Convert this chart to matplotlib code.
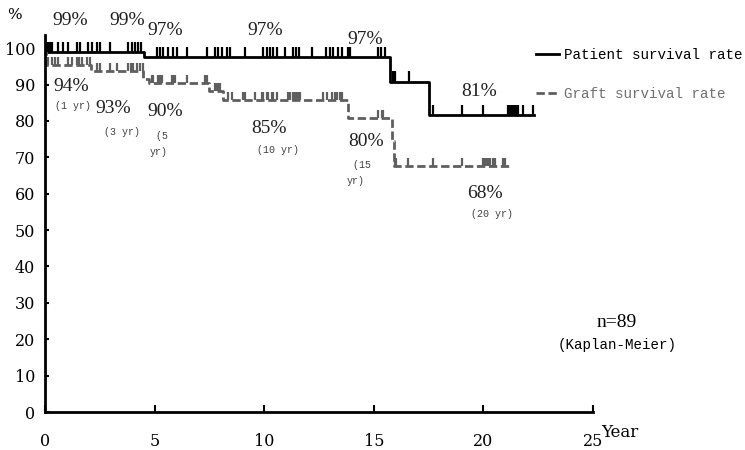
import numpy as np
import matplotlib
matplotlib.use('Agg')
import matplotlib.pyplot as plt

# Kaplan-Meier steps (years, %)
patient_t = [0, 0.03, 4.5, 15.75, 17.52, 22.3]
patient_s = [100, 99.0, 97.6, 90.8, 81.7, 81.7]
graft_t = [0, 0.05, 2.1, 4.47, 4.75, 7.5, 8.1, 13.82, 15.83, 15.9, 21.2]
graft_s = [100, 95.3, 93.6, 91.5, 90.3, 88.2, 85.7, 80.8, 74.5, 67.6, 67.6]

# censored observations (years)
patient_cens = [0.1, 0.18, 0.26, 0.34, 0.6, 0.8, 1.05, 1.46, 1.6, 1.97, 2.15, 2.37,
                2.5, 2.97, 3.79, 3.97, 4.1, 4.24, 4.4,
                5.1, 5.25, 5.38, 5.6, 5.84, 6.0, 6.5, 7.4, 7.76, 7.9, 8.07, 8.3,
                8.44, 9.12, 9.95, 10.13, 10.26, 10.4, 10.58, 10.95, 11.3, 11.45,
                11.6, 12.2, 12.8, 13.0, 13.14, 13.37, 13.55, 13.8, 13.9, 15.2,
                15.35, 15.5, 15.88, 15.97, 16.6, 17.7, 19.02, 19.98, 21.12, 21.2,
                21.28, 21.36, 21.44, 21.53, 21.6, 21.8, 22.26]
graft_cens = [0.14, 0.32, 0.46, 0.6, 1.05, 1.23, 1.46, 1.55, 1.69, 1.92, 2.05,
              2.37, 2.5, 2.97, 3.28, 3.79, 3.92, 4.0, 4.2, 4.33, 4.45,
              4.88, 4.93, 5.15, 5.25, 5.34, 5.8, 5.84, 5.93, 6.48, 7.3, 7.39,
              7.76, 7.84, 7.91, 7.98, 8.35, 8.53, 9.03, 9.12, 9.58, 9.9, 9.95,
              10.13, 10.17, 10.36, 10.4, 10.58, 11.09, 11.18, 11.31, 11.4, 11.5,
              11.54, 11.63, 12.68, 12.86, 13.09, 13.23, 13.3, 13.46, 13.55,
              15.19, 15.37, 15.42, 15.95, 16.03, 16.56, 17.7, 19.02, 19.98,
              20.07, 20.16, 20.24, 20.32, 20.44, 20.53, 20.9, 20.99]

labels = [('99%', 1.15, 107.5), ('99%', 3.75, 107.5), ('97%', 5.5, 104.8),
          ('97%', 10.05, 104.8), ('97%', 14.6, 102.5), ('81%', 19.8, 88.0),
          ('94%', 1.2, 89.5), ('93%', 3.1, 83.3), ('90%', 5.5, 82.6),
          ('85%', 10.2, 78.0), ('80%', 14.65, 74.2), ('68%', 20.05, 60.0)]
small_labels = [('(1 yr)', 1.3, 84.1, 'center'), ('(3 yr)', 3.51, 76.9, 'center'),
                (' (5\nyr)', 4.79, 73.6, 'left'), ('(10 yr)', 10.63, 72.0, 'center'),
                (' (15\nyr)', 13.78, 65.7, 'left'), ('(20 yr)', 20.4, 54.4, 'center')]


def level_at(t, ts, ss):
    idx = np.searchsorted(ts, t, side='right') - 1
    return np.array(ss)[idx]


fig = plt.figure(figsize=(7.45, 4.5), dpi=100)
ax = fig.add_axes([0.0604, 0.0844, 0.7356, 0.8378])

ax.step(patient_t, patient_s, where='post', color='black', lw=2, label='Patient survival rate')
ax.step(graft_t, graft_s, where='post', color='#5f5f5f', lw=2, ls=(0, (3, 1.3)),
        label='Graft survival rate')

pc = np.array(patient_cens)
pl = level_at(pc, patient_t, patient_s)
ax.vlines(pc, pl, pl + 2.8, color='black', lw=1.6)
gc = np.array(graft_cens)
gl = level_at(gc, graft_t, graft_s)
ax.vlines(gc, gl, gl + 2.3, color='#5f5f5f', lw=1.6)

ax.set_xlim(0, 25)
ax.set_ylim(0, 103.6)
for s in ['top', 'right']:
    ax.spines[s].set_visible(False)
for s in ['left', 'bottom']:
    ax.spines[s].set_linewidth(2)
ax.set_xticks([0, 5, 10, 15, 20, 25])
ax.set_yticks(range(0, 101, 10))
ax.tick_params(axis='x', direction='in', length=5, width=1.5, pad=15, labelsize=11.5)
ax.tick_params(axis='y', direction='in', length=3, width=1.5, pad=7, labelsize=11.5)
for lab in ax.get_xticklabels() + ax.get_yticklabels():
    lab.set_fontfamily('DejaVu Serif')

ax.text(26.2, -5.5, 'Year', fontsize=12, family='DejaVu Serif', ha='center',
        va='center', clip_on=False)
ax.text(-1.4, 109.2, '%', fontsize=11, family='DejaVu Serif', ha='center',
        va='center', clip_on=False)

for txt, x, y in labels:
    ax.text(x, y, txt, fontsize=14, family='Liberation Serif', ha='center', va='center',
            color='#202020', clip_on=False)
for txt, x, y, ha in small_labels:
    ax.text(x, y, txt, fontsize=7.2, family='Liberation Mono', ha=ha, va='center',
            color='#404040', linespacing=1.7, multialignment='left')

ax.text(26.1, 24.5, 'n=89', fontsize=14, family='Liberation Serif', ha='center', va='center',
        clip_on=False)
ax.text(26.1, 18.5, '(Kaplan-Meier)', fontsize=10.2, family='Liberation Mono', ha='center',
        va='center', clip_on=False)

leg = ax.legend(loc='upper left', bbox_to_anchor=(0.885, 0.982), frameon=False,
                prop={'family': 'Liberation Mono', 'size': 10.3}, handlelength=1.6,
                handletextpad=0.4, labelspacing=1.8, borderaxespad=0)
leg.get_texts()[1].set_color('#707070')

fig.savefig('out.png', dpi=100)
